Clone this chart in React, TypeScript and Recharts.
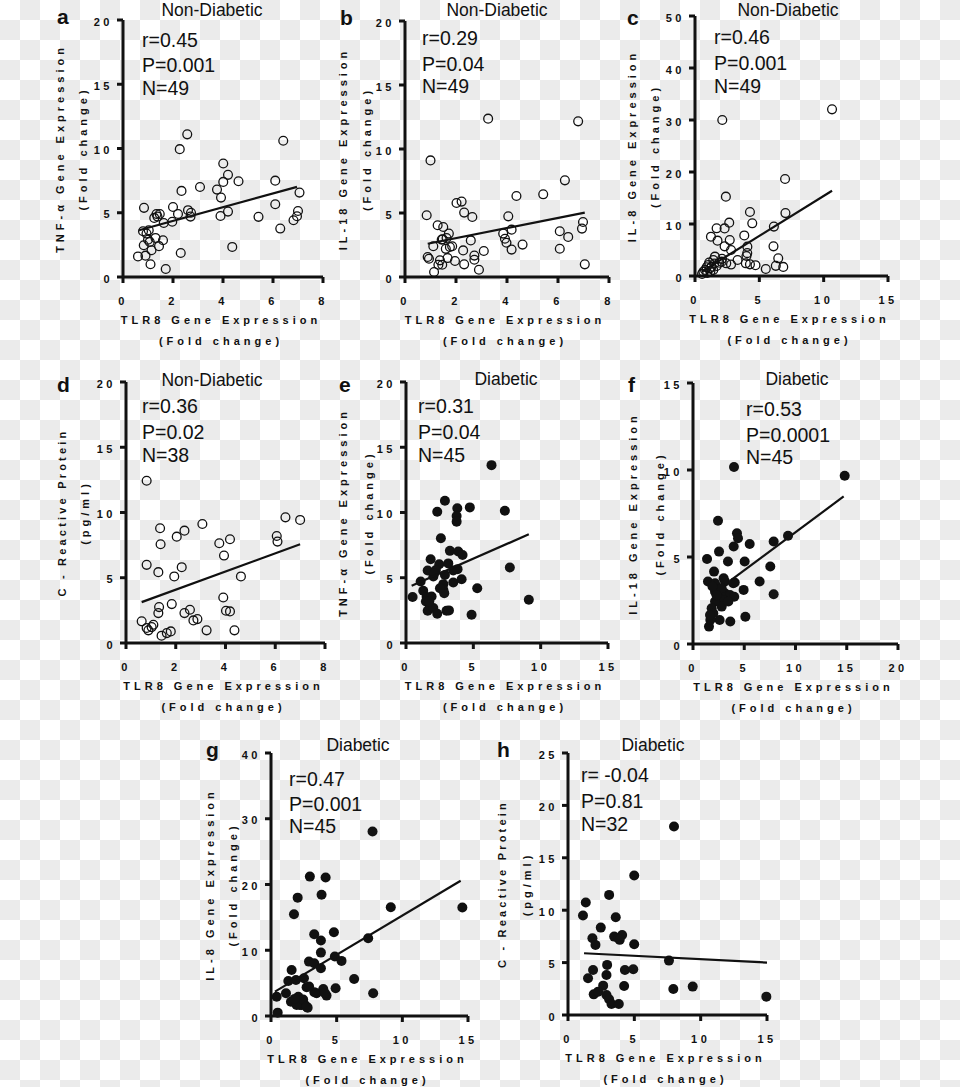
import React from 'react';
import { ScatterChart, Scatter, XAxis, YAxis } from 'recharts';

const FONT = '"Liberation Sans", Arial, Helvetica, sans-serif';
const INK = '#111';

// tick values
const ticks0to8 = [0, 2, 4, 6, 8];
const ticks0to15 = [0, 5, 10, 15];
const ticks0to20 = [0, 5, 10, 15, 20];
const ticks0to25 = [0, 5, 10, 15, 20, 25];
const ticks0to40 = [0, 10, 20, 30, 40];
const ticks0to50 = [0, 10, 20, 30, 40, 50];

// a: TNF-a vs TLR8, non-diabetic
const tnfNonDiab: [number, number][] = [
  [0.84, 5.38], [2.27, 9.95], [2.57, 11.1], [2.34, 6.7], [3.08, 7.0], [2.0, 5.45], [2.2, 4.9],
  [2.6, 5.2], [2.72, 5.0], [2.7, 4.7], [1.97, 4.3], [1.63, 4.2], [1.34, 4.9], [1.47, 4.9],
  [1.38, 4.7], [1.3, 3.04], [1.6, 2.86], [1.44, 2.4], [1.14, 2.08], [0.83, 2.47], [1.03, 3.64],
  [0.94, 3.38], [0.8, 3.56], [1.07, 2.73], [0.6, 1.6], [0.9, 1.66], [1.1, 0.99], [1.71, 0.62],
  [2.31, 1.87], [3.76, 6.8], [3.92, 6.18], [4.01, 8.83], [4.01, 7.4], [4.2, 7.95], [4.62, 7.45],
  [3.9, 4.75], [4.2, 5.09], [4.37, 2.34], [5.42, 4.68], [6.09, 7.5], [6.09, 5.66], [6.41, 10.6],
  [6.29, 3.77], [6.82, 4.42], [6.96, 4.73], [7.0, 5.14], [7.06, 6.57], [1.25, 4.6], [1.0, 2.9],
];
const tnfNonDiabFit: [number, number][] = [[0.64, 3.64], [6.96, 7.01]];

// b: IL-18 vs TLR8, non-diabetic
const il18NonDiab: [number, number][] = [
  [0.85, 4.82], [1.0, 9.11], [3.26, 12.37], [6.79, 12.16], [6.27, 7.55], [5.42, 6.46], [4.37, 6.33],
  [2.02, 5.78], [2.22, 5.89], [2.32, 5.03], [2.64, 4.69], [4.05, 4.74], [4.18, 3.7], [3.85, 3.39],
  [3.92, 2.99], [3.98, 2.68], [4.18, 2.14], [4.61, 2.53], [6.07, 3.57], [6.4, 3.13], [6.07, 2.21],
  [6.98, 4.3], [6.94, 3.78], [7.05, 0.99], [1.28, 4.04], [1.5, 3.91], [1.72, 3.39], [1.44, 2.92],
  [1.11, 2.4], [1.63, 3.05], [1.76, 2.34], [1.85, 2.4], [2.28, 2.08], [2.58, 2.86], [3.09, 2.03],
  [2.72, 1.67], [2.72, 1.35], [2.32, 0.99], [1.96, 1.25], [1.67, 1.48], [1.37, 1.3], [1.31, 0.96],
  [1.46, 0.96], [1.14, 0.39], [2.9, 0.57], [0.89, 1.56], [0.94, 1.43], [1.48, 2.95], [1.6, 2.2],
];
const il18NonDiabFit: [number, number][] = [[0.89, 2.6], [7.05, 5.03]];

// c: IL-8 vs TLR8, non-diabetic
const il8NonDiab: [number, number][] = [
  [2.12, 30.0], [10.65, 32.05], [7.0, 18.65], [2.4, 15.26], [7.03, 12.1], [4.27, 12.3], [4.45, 10.13],
  [2.66, 10.26], [2.3, 9.15], [1.68, 9.17], [1.24, 7.56], [1.75, 6.8], [2.7, 6.9], [3.83, 7.8],
  [2.3, 5.7], [2.8, 5.0], [4.07, 5.64], [4.06, 4.4], [4.0, 3.85], [6.13, 9.5], [6.1, 5.7],
  [6.47, 3.4], [6.28, 1.95], [6.86, 1.75], [5.5, 1.35], [4.7, 2.08], [4.27, 2.24], [3.95, 2.44],
  [3.31, 3.08], [2.8, 2.2], [2.43, 2.44], [2.07, 2.76], [1.55, 3.72], [1.42, 3.08], [1.89, 2.56],
  [1.03, 2.12], [1.29, 1.8], [0.78, 1.15], [1.16, 1.47], [0.9, 1.67], [0.65, 0.83], [1.42, 1.15],
  [1.68, 1.92], [1.1, 2.6], [0.55, 0.4], [0.95, 0.6], [1.2, 0.9], [1.5, 2.4], [2.1, 3.3],
];
const il8NonDiabFit: [number, number][] = [[0.52, 0.83], [10.65, 16.4]];

// d: CRP vs TLR8, non-diabetic
const crpNonDiab: [number, number][] = [
  [0.83, 12.43], [0.83, 5.99], [1.37, 8.79], [1.39, 7.57], [1.3, 5.43], [2.04, 8.15], [2.35, 8.61],
  [2.24, 5.81], [1.94, 5.1], [3.07, 9.12], [3.75, 7.64], [4.18, 7.95], [3.94, 6.7], [4.62, 5.1],
  [6.41, 9.63], [7.0, 9.43], [6.06, 8.2], [6.09, 7.77], [3.91, 3.49], [4.02, 2.47], [4.18, 2.42],
  [4.36, 0.97], [3.24, 0.97], [2.57, 2.55], [2.35, 2.29], [2.71, 1.73], [2.87, 1.83], [1.84, 2.98],
  [1.33, 2.75], [1.3, 2.29], [0.63, 1.66], [1.1, 1.4], [1.03, 1.22], [0.9, 0.97], [0.83, 1.15],
  [1.43, 0.56], [1.64, 0.76], [1.8, 0.89],
];
const crpNonDiabFit: [number, number][] = [[0.63, 3.13], [7.0, 7.57]];

// e: TNF-a vs TLR8, diabetic
const tnfDiab: [number, number][] = [
  [6.35, 13.63], [2.89, 10.9], [2.32, 10.06], [3.81, 10.32], [3.76, 9.73], [3.76, 9.3], [4.74, 10.39],
  [7.34, 10.14], [2.59, 8.03], [3.26, 7.06], [3.88, 7.01], [4.2, 6.75], [7.71, 5.78], [1.83, 6.42],
  [2.47, 6.04], [1.61, 5.55], [2.22, 5.6], [2.03, 5.1], [2.89, 5.22], [3.51, 5.55], [3.83, 5.66],
  [3.51, 4.64], [4.13, 4.89], [1.09, 4.71], [2.77, 4.51], [2.77, 4.08], [2.84, 3.82], [5.29, 4.2],
  [0.49, 3.52], [1.28, 4.0], [1.53, 3.52], [1.9, 3.57], [1.48, 3.18], [1.78, 2.8], [1.61, 2.47],
  [2.03, 2.68], [2.32, 2.24], [3.01, 2.47], [3.19, 2.5], [4.87, 2.17], [9.12, 3.31], [2.52, 4.2],
  [1.73, 3.18], [2.1, 5.35], [3.14, 6.1],
];
const tnfDiabFit: [number, number][] = [[0.42, 4.38], [9.12, 8.33]];

// f: IL-18 vs TLR8, diabetic
const il18Diab: [number, number][] = [
  [4.0, 10.17], [14.8, 9.67], [2.44, 7.08], [4.29, 6.37], [4.39, 6.08], [5.53, 5.75], [7.87, 5.89],
  [9.27, 6.22], [3.97, 5.6], [2.54, 5.31], [1.37, 4.89], [3.41, 4.74], [5.04, 4.74], [7.54, 4.45],
  [2.05, 4.16], [6.5, 3.59], [1.46, 3.59], [2.99, 3.78], [4.07, 3.53], [4.94, 3.11], [7.87, 2.86],
  [5.11, 1.57], [2.6, 1.38], [3.64, 1.29], [1.56, 1.0], [1.69, 1.38], [2.15, 3.01], [2.63, 3.11],
  [3.12, 2.92], [3.61, 2.82], [4.02, 2.72], [2.47, 2.63], [2.96, 2.53], [2.8, 2.15], [2.15, 2.44],
  [1.82, 2.05], [1.98, 1.76], [1.66, 1.67], [3.45, 2.44], [3.12, 3.59], [3.93, 3.49], [2.15, 3.49],
  [2.8, 3.2], [1.9, 3.3], [2.3, 2.8],
];
const il18DiabFit: [number, number][] = [[3.74, 3.68], [14.7, 8.48]];

// g: IL-8 vs TLR8, diabetic
const il8Diab: [number, number][] = [
  [7.73, 28.07], [2.96, 21.2], [4.16, 21.07], [2.03, 18.0], [3.85, 18.43], [1.75, 15.48], [9.12, 16.55],
  [14.57, 16.5], [3.29, 12.44], [4.79, 12.74], [3.8, 11.47], [7.4, 11.83], [3.8, 9.64], [2.89, 8.27],
  [3.29, 8.02], [3.8, 7.26], [4.86, 9.04], [5.37, 8.38], [1.57, 7.0], [1.32, 5.33], [1.9, 5.48],
  [2.51, 5.74], [6.33, 5.63], [0.43, 2.94], [1.14, 3.45], [1.52, 2.18], [2.08, 2.94], [2.2, 1.68],
  [2.58, 1.68], [2.79, 1.27], [2.71, 4.37], [3.47, 3.45], [3.98, 4.11], [4.23, 3.1], [4.92, 4.21],
  [7.78, 3.45], [0.51, 0.51], [2.33, 1.68], [1.95, 1.68], [2.45, 2.5], [2.71, 1.42], [3.3, 3.6],
  [4.1, 3.5], [1.8, 2.6], [2.9, 4.5],
];
const il8DiabFit: [number, number][] = [[0.3, 3.7], [14.44, 20.56]];

// h: CRP vs TLR8, diabetic
const crpDiab: [number, number][] = [
  [7.99, 17.99], [4.99, 13.31], [3.1, 11.46], [1.34, 10.73], [1.13, 9.49], [3.6, 9.33], [2.47, 8.34],
  [1.84, 7.32], [2.07, 6.69], [3.48, 7.48], [3.78, 7.32], [4.08, 7.64], [3.9, 7.17], [4.99, 6.75],
  [7.61, 5.19], [2.95, 4.78], [2.9, 3.82], [1.89, 4.3], [1.51, 3.5], [4.29, 4.3], [4.92, 4.36],
  [4.23, 2.77], [7.94, 2.48], [9.4, 2.71], [14.95, 1.75], [1.94, 1.97], [2.65, 2.8], [2.27, 2.23],
  [2.9, 1.91], [3.1, 1.5], [3.28, 1.05], [3.83, 1.05],
];
const crpDiabFit: [number, number][] = [[1.21, 5.89], [15, 5.0]];

const toXY = (arr: [number, number][]) => arr.map(([x, y]) => ({ x, y }));

type PanelDef = {
  id: string;
  L: number; T: number; R: number; B: number;
  xMax: number; xTicks: number[];
  yMax: number; yTicks: number[];
  points: [number, number][];
  fit: [number, number][];
  filled: boolean;
  title: string; titleX: number; titleY: number;
  letterX: number; letterY: number;
  stats: string[]; statX: number; statY: number[];
  yTitle: string; ySub: string; yOff1: number; yOff2: number;
};

const panels: PanelDef[] = [
  {
    id: 'a', L: 123, T: 20, R: 323, B: 277, xMax: 8, xTicks: ticks0to8, yMax: 20, yTicks: ticks0to20,
    points: tnfNonDiab, fit: tnfNonDiabFit, filled: false,
    title: 'Non-Diabetic', titleX: 212, titleY: 16, letterX: 57, letterY: 24,
    stats: ['r=0.45', 'P=0.001', 'N=49'], statX: 142, statY: [47, 72, 95],
    yTitle: 'TNF-α Gene Expression', ySub: '(Fold change)', yOff1: -63, yOff2: -40,
  },
  {
    id: 'b', L: 405, T: 21, R: 609, B: 277, xMax: 8, xTicks: ticks0to8, yMax: 20, yTicks: ticks0to20,
    points: il18NonDiab, fit: il18NonDiabFit, filled: false,
    title: 'Non-Diabetic', titleX: 497, titleY: 16, letterX: 340, letterY: 25,
    stats: ['r=0.29', 'P=0.04', 'N=49'], statX: 422, statY: [45, 71, 93],
    yTitle: 'IL-18 Gene Expression', ySub: '(Fold change)', yOff1: -62, yOff2: -38,
  },
  {
    id: 'c', L: 695, T: 16, R: 888, B: 276, xMax: 15, xTicks: ticks0to15, yMax: 50, yTicks: ticks0to50,
    points: il8NonDiab, fit: il8NonDiabFit, filled: false,
    title: 'Non-Diabetic', titleX: 788, titleY: 16, letterX: 627, letterY: 25,
    stats: ['r=0.46', 'P=0.001', 'N=49'], statX: 714, statY: [44, 70, 93],
    yTitle: 'IL-8 Gene Expression', ySub: '(Fold change)', yOff1: -63, yOff2: -40,
  },
  {
    id: 'd', L: 126, T: 382, R: 325, B: 643, xMax: 8, xTicks: ticks0to8, yMax: 20, yTicks: ticks0to20,
    points: crpNonDiab, fit: crpNonDiabFit, filled: false,
    title: 'Non-Diabetic', titleX: 212, titleY: 386, letterX: 57, letterY: 392,
    stats: ['r=0.36', 'P=0.02', 'N=38'], statX: 142, statY: [413, 439, 462],
    yTitle: 'C - Reactive Protein', ySub: '(pg/ml)', yOff1: -64, yOff2: -41,
  },
  {
    id: 'e', L: 406, T: 382, R: 608, B: 643, xMax: 15, xTicks: ticks0to15, yMax: 20, yTicks: ticks0to20,
    points: tnfDiab, fit: tnfDiabFit, filled: true,
    title: 'Diabetic', titleX: 506, titleY: 385, letterX: 339, letterY: 392,
    stats: ['r=0.31', 'P=0.04', 'N=45'], statX: 418, statY: [413, 439, 462],
    yTitle: 'TNF-α Gene Expression', ySub: '(Fold change)', yOff1: -63, yOff2: -37,
  },
  {
    id: 'f', L: 693, T: 383, R: 898, B: 644, xMax: 20, xTicks: ticks0to20, yMax: 15, yTicks: ticks0to15,
    points: il18Diab, fit: il18DiabFit, filled: true,
    title: 'Diabetic', titleX: 797, titleY: 385, letterX: 628, letterY: 392,
    stats: ['r=0.53', 'P=0.0001', 'N=45'], statX: 746, statY: [416, 442, 464],
    yTitle: 'IL-18 Gene Expression', ySub: '(Fold change)', yOff1: -60, yOff2: -33,
  },
  {
    id: 'g', L: 271, T: 753, R: 468, B: 1016, xMax: 15, xTicks: ticks0to15, yMax: 40, yTicks: ticks0to40,
    points: il8Diab, fit: il8DiabFit, filled: true,
    title: 'Diabetic', titleX: 358, titleY: 751, letterX: 206, letterY: 757,
    stats: ['r=0.47', 'P=0.001', 'N=45'], statX: 289, statY: [786, 811, 833],
    yTitle: 'IL-8 Gene Expression', ySub: '(Fold change)', yOff1: -61, yOff2: -38,
  },
  {
    id: 'h', L: 568, T: 753, R: 767, B: 1015, xMax: 15, xTicks: ticks0to15, yMax: 25, yTicks: ticks0to25,
    points: crpDiab, fit: crpDiabFit, filled: true,
    title: 'Diabetic', titleX: 653, titleY: 751, letterX: 497, letterY: 757,
    stats: ['r= -0.04', 'P=0.81', 'N=32'], statX: 581, statY: [782, 808, 831],
    yTitle: 'C - Reactive Protein', ySub: '(pg/ml)', yOff1: -66, yOff2: -41,
  },
];

const tickStyle = { fontFamily: FONT, fontWeight: 700, fontSize: 11, letterSpacing: 3.5 };

const YTick = (props: any) => {
  const { x, y, payload } = props;
  return (
    <text x={x - 2} y={y} dy={5.5} textAnchor="end" fill={INK} style={tickStyle}>
      {payload.value}
    </text>
  );
};

const XTick = (props: any) => {
  const { x, y, payload } = props;
  return (
    <text x={x} y={y} dy={20} textAnchor="middle" fill={INK} style={tickStyle}>
      {payload.value}
    </text>
  );
};

const openDot = (props: any) => (
  <circle cx={props.cx} cy={props.cy} r={4.4} fill="none" stroke={INK} strokeWidth={1.3} />
);
const filledDot = (props: any) => <circle cx={props.cx} cy={props.cy} r={5} fill={INK} />;
const noDot = () => <g />;

const ML = 60;
const MT = 10;
const MR = 12;
const MB = 34;

function Panel({ p }: { p: PanelDef }) {
  const w = p.R - p.L + ML + MR;
  const h = p.B - p.T + MT + MB;
  return (
    <div style={{ position: 'absolute', left: p.L - ML, top: p.T - MT }}>
      <ScatterChart width={w} height={h} margin={{ top: MT, right: MR, bottom: 0, left: 0 }}>
        <XAxis
          type="number"
          dataKey="x"
          domain={[0, p.xMax]}
          ticks={p.xTicks}
          height={MB}
          tickSize={6}
          axisLine={{ stroke: INK, strokeWidth: 3 }}
          tickLine={{ stroke: INK, strokeWidth: 3 }}
          tick={<XTick />}
          interval={0}
        />
        <YAxis
          type="number"
          dataKey="y"
          domain={[0, p.yMax]}
          ticks={p.yTicks}
          width={ML}
          tickSize={6}
          axisLine={{ stroke: INK, strokeWidth: 3 }}
          tickLine={{ stroke: INK, strokeWidth: 3 }}
          tick={<YTick />}
          interval={0}
        />
        <Scatter data={toXY(p.points)} shape={p.filled ? filledDot : openDot} isAnimationActive={false} />
        <Scatter
          data={toXY(p.fit)}
          shape={noDot}
          line={{ stroke: INK, strokeWidth: 2.2 }}
          isAnimationActive={false}
        />
      </ScatterChart>
    </div>
  );
}

const titleStyle = { fontFamily: FONT, fontWeight: 700, fontSize: 11, letterSpacing: 4 };

function Labels({ p }: { p: PanelDef }) {
  const cx = (p.L + p.R) / 2 - 2;
  const cy = (p.T + p.B) / 2;
  const y1 = p.L + p.yOff1;
  const y2 = p.L + p.yOff2;
  const crp = p.yTitle.startsWith('C');
  return (
    <g fill={INK}>
      <text x={p.letterX} y={p.letterY} style={{ fontFamily: FONT, fontWeight: 700, fontSize: 21 }}>
        {p.id}
      </text>
      <text x={p.titleX} y={p.titleY} textAnchor="middle" style={{ fontFamily: FONT, fontSize: 17.5 }}>
        {p.title}
      </text>
      {p.stats.map((s, i) => (
        <text key={s} x={p.statX} y={p.statY[i]} style={{ fontFamily: FONT, fontSize: 19.5 }}>
          {s}
        </text>
      ))}
      <text x={cx} y={p.B + 47} textAnchor="middle" style={titleStyle}>
        TLR8 Gene Expression
      </text>
      <text x={cx} y={p.B + 68} textAnchor="middle" style={titleStyle}>
        (Fold change)
      </text>
      <text
        transform={`translate(${y1 + 4},${cy}) rotate(-90)`}
        textAnchor="middle"
        style={crp ? { ...titleStyle, letterSpacing: 3.2 } : titleStyle}
      >
        {p.yTitle}
      </text>
      <text transform={`translate(${y2 + 4},${cy}) rotate(-90)`} textAnchor="middle" style={titleStyle}>
        {p.ySub}
      </text>
    </g>
  );
}

export default function App() {
  return (
    <div
      style={{
        position: 'absolute',
        left: 0,
        top: 0,
        width: 960,
        height: 1087,
        overflow: 'hidden',
        background: '#fff',
      }}
    >
      <svg width={960} height={1087} style={{ position: 'absolute', left: 0, top: 0 }}>
        <defs>
          <pattern id="checker" width={40} height={40} patternUnits="userSpaceOnUse">
            <rect x={0} y={0} width={40} height={40} fill="#fff" />
            <rect x={20} y={0} width={20} height={20} fill="#ebebeb" />
            <rect x={0} y={20} width={20} height={20} fill="#ebebeb" />
          </pattern>
        </defs>
        <rect x={0} y={0} width={960} height={1087} fill="url(#checker)" />
      </svg>
      {panels.map((p) => (
        <Panel key={p.id} p={p} />
      ))}
      <svg
        width={960}
        height={1087}
        style={{ position: 'absolute', left: 0, top: 0, pointerEvents: 'none' }}
      >
        {panels.map((p) => (
          <Labels key={p.id} p={p} />
        ))}
      </svg>
    </div>
  );
}
